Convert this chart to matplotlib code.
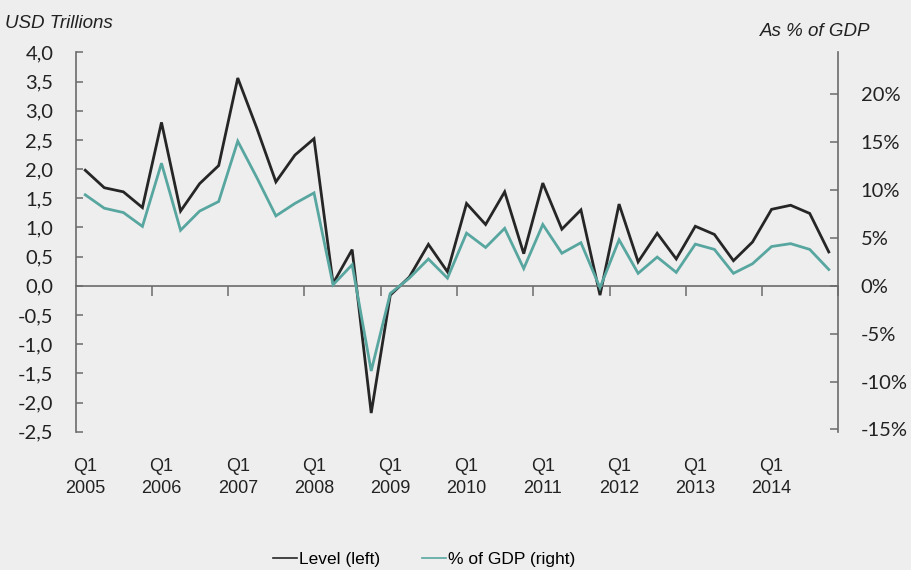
import matplotlib
matplotlib.use("Agg")
import matplotlib.pyplot as plt
import numpy as np

# quarterly data, Q1 2005 .. Q4 2014
years = list(range(2005, 2015))
level = [1.98, 1.68, 1.61, 1.34, 2.80, 1.28, 1.75, 2.06,
         3.56, 2.70, 1.78, 2.24, 2.52, 0.04, 0.62, -2.18,
         -0.16, 0.15, 0.71, 0.24, 1.41, 1.05, 1.61, 0.55,
         1.76, 0.97, 1.30, -0.16, 1.40, 0.41, 0.90, 0.46,
         1.02, 0.88, 0.43, 0.75, 1.31, 1.38, 1.24, 0.58]
pct_gdp = [9.5, 8.1, 7.65, 6.2, 12.8, 5.8, 7.8, 8.8,
           15.1, 11.3, 7.3, 8.6, 9.7, 0.1, 2.2, -8.9,
           -0.8, 0.8, 2.8, 0.8, 5.5, 4.0, 6.0, 1.8,
           6.4, 3.4, 4.5, -0.2, 4.8, 1.3, 3.0, 1.4,
           4.35, 3.8, 1.3, 2.3, 4.1, 4.4, 3.8, 1.7]
left_ticks = [4.0, 3.5, 3.0, 2.5, 2.0, 1.5, 1.0, 0.5, 0.0,
              -0.5, -1.0, -1.5, -2.0, -2.5]
right_ticks = [20, 15, 10, 5, 0, -5, -10, -15]

bg = "#eeeeee"
black = "#262626"
teal = "#58a6a0"
axis_col = "#6b6b6b"
narrow = ["Liberation Sans Narrow", "Liberation Sans", "DejaVu Sans"]
num_font = ["Lato", "DejaVu Sans"]

x = np.arange(len(level))

fig = plt.figure(figsize=(9.12, 5.70), dpi=100, facecolor=bg)
ax = fig.add_axes([0.083, 0.2426, 0.8362, 0.6656])
ax.set_facecolor(bg)
ax2 = ax.twinx()

l1, = ax.plot(x, level, color=black, lw=2.0, solid_joinstyle="miter",
              label="Level (left)")
l2, = ax2.plot(x, pct_gdp, color=teal, lw=2.0, solid_joinstyle="miter",
               label="% of GDP (right)")

ax.set_xlim(-0.5, len(level) - 0.5)
ax.set_ylim(-2.5, 4.0)
ax2.set_ylim(-15.24, 24.38)

# left axis
ax.set_yticks(left_ticks)
ax.set_yticklabels([f"{v:.1f}".replace(".", ",") for v in left_ticks],
                   family=num_font, fontsize=14.5, color="#222222")
ax.tick_params(axis="y", direction="in", length=5, width=1.1,
               color=axis_col, pad=16)

# right axis
ax2.set_yticks(right_ticks)
ax2.set_yticklabels([f"{v}%" for v in right_ticks],
                    family=num_font, fontsize=14.5, color="#222222")
ax2.tick_params(axis="y", direction="in", length=6, width=1.1,
                color=axis_col, pad=16)

# category axis crossing at zero
ax.spines["bottom"].set_position(("data", 0))
ax.set_xticks(x[::4])
ax.set_xticklabels([f"Q1\n{y}" for y in years], family=narrow,
                   fontsize=13, color="#222222", linespacing=1.35)
ax.set_xticks(np.arange(3.5, len(level), 4), minor=True)
ax.tick_params(axis="x", which="major", length=0, pad=124)
ax.tick_params(axis="x", which="minor", direction="out", length=7,
               width=1.1, color=axis_col)

for s in ("top", "right"):
    ax.spines[s].set_visible(False)
for s in ("top", "left", "bottom"):
    ax2.spines[s].set_visible(False)
for sp in (ax.spines["left"], ax.spines["bottom"], ax2.spines["right"]):
    sp.set_color(axis_col)
    sp.set_linewidth(1.2)

fig.text(0.006, 0.958, "USD Trillions", family=narrow, style="italic",
         fontsize=13.5, color="#222222", va="center")
fig.text(0.954, 0.945, "As % of GDP", family=narrow, style="italic",
         fontsize=13.5, color="#222222", va="center", ha="right")

leg = fig.legend(handles=[l1, l2], loc="lower center",
                 bbox_to_anchor=(0.465, -0.022), ncol=2, frameon=False,
                 handlelength=1.4, handletextpad=0.1, columnspacing=2.4,
                 prop={"family": narrow, "size": 12.5})
for h in leg.get_lines():
    h.set_linewidth(1.2)

fig.savefig("out.png", dpi=100, facecolor=bg)
